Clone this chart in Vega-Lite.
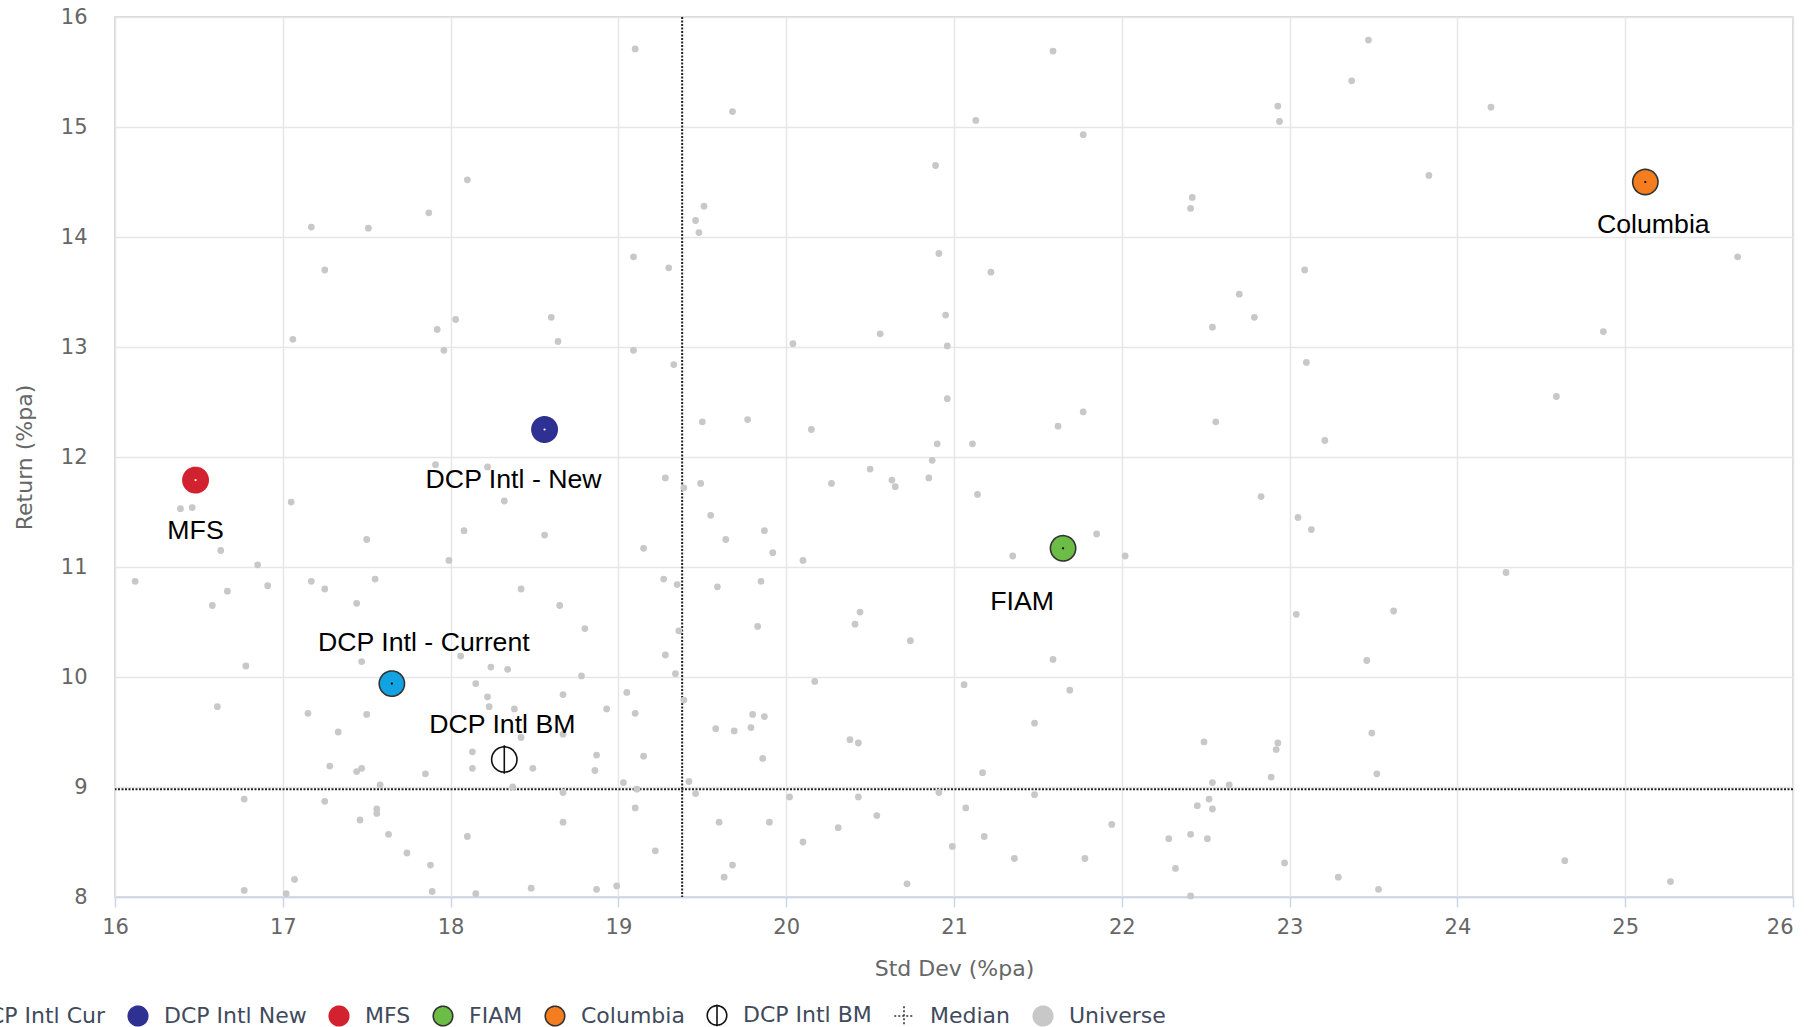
{
  "$schema": "https://vega.github.io/schema/vega-lite/v6.json",
  "width": 1678,
  "height": 880,
  "autosize": {"type": "none"},
  "padding": {"left": 115, "top": 17, "right": 17, "bottom": 130},
  "background": "white",
  "config": {
    "view": {"stroke": "#cccccc", "strokeWidth": 1.5},
    "axis": {"labelFont": "DejaVu Sans", "titleFont": "DejaVu Sans", "titleFontWeight": "normal", "labelColor": "#666666", "titleColor": "#666666", "gridColor": "#e6e6e6", "gridWidth": 1.5, "labelFontSize": 21, "titleFontSize": 22},
    "legend": {
      "orient": "none", "legendX": -180, "legendY": 987, "direction": "horizontal", "columns": 8,
      "title": null, "symbolSize": 380, "symbolStrokeWidth": 1.6, "labelFont": "DejaVu Sans", "labelFontSize": 22,
      "labelColor": "#3f4a5c", "labelOffset": 15, "columnPadding": 19, "labelLimit": 400, "padding": 0
    }
  },
  "datasets": {
    "points": [
      {"series":"Universe","std_dev":19.10,"return":15.71},{"series":"Universe","std_dev":21.59,"return":15.69},{"series":"Universe","std_dev":23.47,"return":15.79},{"series":"Universe","std_dev":23.37,"return":15.42},{"series":"Universe","std_dev":19.68,"return":15.14},{"series":"Universe","std_dev":22.93,"return":15.19},{"series":"Universe","std_dev":22.94,"return":15.05},{"series":"Universe","std_dev":24.20,"return":15.18},{"series":"Universe","std_dev":21.13,"return":15.06},{"series":"Universe","std_dev":21.77,"return":14.93},
      {"series":"Universe","std_dev":23.83,"return":14.56},{"series":"Universe","std_dev":20.89,"return":14.65},{"series":"Universe","std_dev":18.10,"return":14.52},{"series":"Universe","std_dev":17.87,"return":14.22},{"series":"Universe","std_dev":17.17,"return":14.09},{"series":"Universe","std_dev":17.51,"return":14.08},{"series":"Universe","std_dev":17.25,"return":13.70},{"series":"Universe","std_dev":19.51,"return":14.28},{"series":"Universe","std_dev":19.46,"return":14.15},{"series":"Universe","std_dev":19.48,"return":14.04},
      {"series":"Universe","std_dev":19.09,"return":13.82},{"series":"Universe","std_dev":19.30,"return":13.72},{"series":"Universe","std_dev":22.42,"return":14.36},{"series":"Universe","std_dev":22.41,"return":14.26},{"series":"Universe","std_dev":20.91,"return":13.85},{"series":"Universe","std_dev":21.22,"return":13.68},{"series":"Universe","std_dev":23.09,"return":13.70},{"series":"Universe","std_dev":25.67,"return":13.82},{"series":"Universe","std_dev":22.70,"return":13.48},{"series":"Universe","std_dev":22.79,"return":13.27},
      {"series":"Universe","std_dev":22.54,"return":13.18},{"series":"Universe","std_dev":20.95,"return":13.29},{"series":"Universe","std_dev":20.56,"return":13.12},{"series":"Universe","std_dev":20.04,"return":13.03},{"series":"Universe","std_dev":20.96,"return":13.01},{"series":"Universe","std_dev":23.10,"return":12.86},{"series":"Universe","std_dev":24.87,"return":13.14},{"series":"Universe","std_dev":24.59,"return":12.55},{"series":"Universe","std_dev":23.21,"return":12.15},{"series":"Universe","std_dev":20.96,"return":12.53},
      {"series":"Universe","std_dev":21.77,"return":12.41},{"series":"Universe","std_dev":21.62,"return":12.28},{"series":"Universe","std_dev":22.56,"return":12.32},{"series":"Universe","std_dev":19.50,"return":12.32},{"series":"Universe","std_dev":19.77,"return":12.34},{"series":"Universe","std_dev":20.15,"return":12.25},{"series":"Universe","std_dev":20.90,"return":12.12},{"series":"Universe","std_dev":21.11,"return":12.12},{"series":"Universe","std_dev":20.87,"return":11.97},{"series":"Universe","std_dev":20.50,"return":11.89},
      {"series":"Universe","std_dev":18.03,"return":13.25},{"series":"Universe","std_dev":17.92,"return":13.16},{"series":"Universe","std_dev":17.96,"return":12.97},{"series":"Universe","std_dev":18.60,"return":13.27},{"series":"Universe","std_dev":18.64,"return":13.05},{"series":"Universe","std_dev":17.06,"return":13.07},{"series":"Universe","std_dev":19.09,"return":12.97},{"series":"Universe","std_dev":19.33,"return":12.84},{"series":"Universe","std_dev":17.91,"return":11.93},{"series":"Universe","std_dev":18.22,"return":11.91},
      {"series":"Universe","std_dev":16.39,"return":11.53},{"series":"Universe","std_dev":16.46,"return":11.54},{"series":"Universe","std_dev":17.05,"return":11.59},{"series":"Universe","std_dev":16.63,"return":11.15},{"series":"Universe","std_dev":16.85,"return":11.02},{"series":"Universe","std_dev":16.12,"return":10.87},{"series":"Universe","std_dev":16.67,"return":10.78},{"series":"Universe","std_dev":16.91,"return":10.83},{"series":"Universe","std_dev":16.58,"return":10.65},{"series":"Universe","std_dev":17.17,"return":10.87},
      {"series":"Universe","std_dev":17.25,"return":10.80},{"series":"Universe","std_dev":17.55,"return":10.89},{"series":"Universe","std_dev":17.44,"return":10.67},{"series":"Universe","std_dev":17.50,"return":11.25},{"series":"Universe","std_dev":17.99,"return":11.06},{"series":"Universe","std_dev":18.08,"return":11.33},{"series":"Universe","std_dev":18.32,"return":11.60},{"series":"Universe","std_dev":18.56,"return":11.29},{"series":"Universe","std_dev":19.15,"return":11.17},{"series":"Universe","std_dev":19.28,"return":11.81},
      {"series":"Universe","std_dev":19.27,"return":10.89},{"series":"Universe","std_dev":19.35,"return":10.84},{"series":"Universe","std_dev":18.42,"return":10.80},{"series":"Universe","std_dev":18.65,"return":10.65},{"series":"Universe","std_dev":18.80,"return":10.44},{"series":"Universe","std_dev":19.36,"return":10.42},{"series":"Universe","std_dev":19.28,"return":10.20},{"series":"Universe","std_dev":19.34,"return":10.03},{"series":"Universe","std_dev":18.78,"return":10.01},{"series":"Universe","std_dev":16.78,"return":10.10},
      {"series":"Universe","std_dev":17.47,"return":10.14},{"series":"Universe","std_dev":18.06,"return":10.19},{"series":"Universe","std_dev":18.24,"return":10.09},{"series":"Universe","std_dev":18.34,"return":10.07},{"series":"Universe","std_dev":18.15,"return":9.94},{"series":"Universe","std_dev":18.22,"return":9.82},{"series":"Universe","std_dev":18.23,"return":9.73},{"series":"Universe","std_dev":18.38,"return":9.71},{"series":"Universe","std_dev":18.67,"return":9.84},{"series":"Universe","std_dev":19.05,"return":9.86},
      {"series":"Universe","std_dev":18.93,"return":9.71},{"series":"Universe","std_dev":19.10,"return":9.67},{"series":"Universe","std_dev":19.39,"return":9.79},{"series":"Universe","std_dev":16.61,"return":9.73},{"series":"Universe","std_dev":17.15,"return":9.67},{"series":"Universe","std_dev":17.50,"return":9.66},{"series":"Universe","std_dev":17.33,"return":9.50},{"series":"Universe","std_dev":18.42,"return":9.45},{"series":"Universe","std_dev":18.67,"return":9.48},{"series":"Universe","std_dev":18.13,"return":9.32},
      {"series":"Universe","std_dev":18.13,"return":9.17},{"series":"Universe","std_dev":18.49,"return":9.17},{"series":"Universe","std_dev":18.87,"return":9.29},{"series":"Universe","std_dev":18.86,"return":9.15},{"series":"Universe","std_dev":19.15,"return":9.28},{"series":"Universe","std_dev":17.28,"return":9.19},{"series":"Universe","std_dev":17.44,"return":9.14},{"series":"Universe","std_dev":17.47,"return":9.17},{"series":"Universe","std_dev":17.85,"return":9.12},{"series":"Universe","std_dev":17.58,"return":9.02},
      {"series":"Universe","std_dev":18.37,"return":9.00},{"series":"Universe","std_dev":19.03,"return":9.04},{"series":"Universe","std_dev":19.42,"return":9.05},{"series":"Universe","std_dev":19.11,"return":8.98},{"series":"Universe","std_dev":18.67,"return":8.95},{"series":"Universe","std_dev":16.77,"return":8.89},{"series":"Universe","std_dev":17.25,"return":8.87},{"series":"Universe","std_dev":17.56,"return":8.80},{"series":"Universe","std_dev":17.56,"return":8.76},{"series":"Universe","std_dev":17.46,"return":8.70},
      {"series":"Universe","std_dev":19.10,"return":8.81},{"series":"Universe","std_dev":18.67,"return":8.68},{"series":"Universe","std_dev":17.63,"return":8.57},{"series":"Universe","std_dev":18.10,"return":8.55},{"series":"Universe","std_dev":19.22,"return":8.42},{"series":"Universe","std_dev":17.74,"return":8.40},{"series":"Universe","std_dev":17.88,"return":8.29},{"series":"Universe","std_dev":17.07,"return":8.16},{"series":"Universe","std_dev":16.77,"return":8.06},{"series":"Universe","std_dev":17.02,"return":8.03},
      {"series":"Universe","std_dev":17.89,"return":8.05},{"series":"Universe","std_dev":18.15,"return":8.03},{"series":"Universe","std_dev":18.48,"return":8.08},{"series":"Universe","std_dev":18.87,"return":8.07},{"series":"Universe","std_dev":18.99,"return":8.10},{"series":"Universe","std_dev":20.63,"return":11.79},{"series":"Universe","std_dev":20.65,"return":11.73},{"series":"Universe","std_dev":20.85,"return":11.81},{"series":"Universe","std_dev":20.27,"return":11.76},{"series":"Universe","std_dev":19.49,"return":11.76},
      {"series":"Universe","std_dev":19.39,"return":11.72},{"series":"Universe","std_dev":21.14,"return":11.66},{"series":"Universe","std_dev":19.55,"return":11.47},{"series":"Universe","std_dev":19.64,"return":11.25},{"series":"Universe","std_dev":19.87,"return":11.33},{"series":"Universe","std_dev":19.92,"return":11.13},{"series":"Universe","std_dev":20.10,"return":11.06},{"series":"Universe","std_dev":21.35,"return":11.10},{"series":"Universe","std_dev":21.85,"return":11.30},{"series":"Universe","std_dev":22.02,"return":11.10},
      {"series":"Universe","std_dev":19.59,"return":10.82},{"series":"Universe","std_dev":19.85,"return":10.87},{"series":"Universe","std_dev":19.83,"return":10.46},{"series":"Universe","std_dev":20.44,"return":10.59},{"series":"Universe","std_dev":20.41,"return":10.48},{"series":"Universe","std_dev":20.74,"return":10.33},{"series":"Universe","std_dev":21.59,"return":10.16},{"series":"Universe","std_dev":20.17,"return":9.96},{"series":"Universe","std_dev":21.06,"return":9.93},{"series":"Universe","std_dev":21.69,"return":9.88},
      {"series":"Universe","std_dev":19.80,"return":9.66},{"series":"Universe","std_dev":19.87,"return":9.64},{"series":"Universe","std_dev":19.58,"return":9.53},{"series":"Universe","std_dev":19.69,"return":9.51},{"series":"Universe","std_dev":19.79,"return":9.54},{"series":"Universe","std_dev":21.48,"return":9.58},{"series":"Universe","std_dev":20.38,"return":9.43},{"series":"Universe","std_dev":20.43,"return":9.40},{"series":"Universe","std_dev":19.86,"return":9.26},{"series":"Universe","std_dev":22.49,"return":9.41},
      {"series":"Universe","std_dev":21.17,"return":9.13},{"series":"Universe","std_dev":22.54,"return":9.04},{"series":"Universe","std_dev":22.64,"return":9.02},{"series":"Universe","std_dev":19.46,"return":8.94},{"series":"Universe","std_dev":20.02,"return":8.91},{"series":"Universe","std_dev":20.43,"return":8.91},{"series":"Universe","std_dev":20.91,"return":8.95},{"series":"Universe","std_dev":21.48,"return":8.93},{"series":"Universe","std_dev":22.52,"return":8.89},{"series":"Universe","std_dev":22.45,"return":8.83},
      {"series":"Universe","std_dev":22.54,"return":8.80},{"series":"Universe","std_dev":21.07,"return":8.81},{"series":"Universe","std_dev":19.60,"return":8.68},{"series":"Universe","std_dev":19.90,"return":8.68},{"series":"Universe","std_dev":20.54,"return":8.74},{"series":"Universe","std_dev":20.31,"return":8.63},{"series":"Universe","std_dev":20.10,"return":8.50},{"series":"Universe","std_dev":21.18,"return":8.55},{"series":"Universe","std_dev":20.99,"return":8.46},{"series":"Universe","std_dev":21.94,"return":8.66},
      {"series":"Universe","std_dev":21.36,"return":8.35},{"series":"Universe","std_dev":21.78,"return":8.35},{"series":"Universe","std_dev":22.28,"return":8.53},{"series":"Universe","std_dev":22.41,"return":8.57},{"series":"Universe","std_dev":22.51,"return":8.53},{"series":"Universe","std_dev":22.32,"return":8.26},{"series":"Universe","std_dev":19.68,"return":8.29},{"series":"Universe","std_dev":19.63,"return":8.18},{"series":"Universe","std_dev":20.72,"return":8.12},{"series":"Universe","std_dev":22.41,"return":8.01},
      {"series":"Universe","std_dev":22.83,"return":11.64},{"series":"Universe","std_dev":23.05,"return":11.45},{"series":"Universe","std_dev":23.13,"return":11.34},{"series":"Universe","std_dev":24.29,"return":10.95},{"series":"Universe","std_dev":23.04,"return":10.57},{"series":"Universe","std_dev":23.62,"return":10.60},{"series":"Universe","std_dev":23.46,"return":10.15},{"series":"Universe","std_dev":23.49,"return":9.49},{"series":"Universe","std_dev":22.93,"return":9.40},{"series":"Universe","std_dev":22.92,"return":9.34},
      {"series":"Universe","std_dev":22.89,"return":9.09},{"series":"Universe","std_dev":23.52,"return":9.12},{"series":"Universe","std_dev":22.97,"return":8.31},{"series":"Universe","std_dev":23.29,"return":8.18},{"series":"Universe","std_dev":23.53,"return":8.07},{"series":"Universe","std_dev":24.64,"return":8.33},{"series":"Universe","std_dev":25.27,"return":8.14},
      {"series":"DCP Intl Cur","label":"DCP Intl - Current","std_dev":17.65,"return":9.94},
      {"series":"DCP Intl New","label":"DCP Intl - New","std_dev":18.56,"return":12.25},
      {"series":"MFS","label":"MFS","std_dev":16.48,"return":11.79},
      {"series":"FIAM","label":"FIAM","std_dev":21.65,"return":11.17},
      {"series":"Columbia","label":"Columbia","std_dev":25.12,"return":14.50},
      {"series":"DCP Intl BM","label":"DCP Intl BM","std_dev":18.32,"return":9.25}
    ],
    "median": [{"std_dev": 19.38, "return": 8.98}]
  },
  "layer": [
    {
      "data": {"name": "median"},
      "mark": {"type": "rule", "color": "#222222", "strokeWidth": 2, "strokeDash": [2, 1.5]},
      "encoding": {"x": {"field": "std_dev", "type": "quantitative", "scale": {"domain": [16, 26], "nice": false, "zero": false}}}
    },
    {
      "data": {"name": "median"},
      "mark": {"type": "rule", "color": "#222222", "strokeWidth": 2, "strokeDash": [2, 1.5]},
      "encoding": {"y": {"field": "return", "type": "quantitative", "scale": {"domain": [8, 16], "nice": false, "zero": false}}}
    },
    {
      "data": {"name": "points"},
      "transform": [{"filter": "datum.series === 'Universe'"}],
      "mark": {"type": "point", "filled": true, "size": 46, "opacity": 1, "strokeWidth": 0},
      "encoding": {
        "x": {"field": "std_dev", "type": "quantitative", "scale": {"domain": [16, 26], "nice": false, "zero": false},
          "axis": {"values": [16,17,18,19,20,21,22,23,24,25,26], "format": "d", "title": "Std Dev (%pa)", "domainColor": "#ccd6eb", "domainWidth": 1.5, "tickColor": "#ccd6eb", "tickWidth": 1.5, "tickSize": 10, "labelPadding": 9, "titlePadding": 21, "labelFlush": false,
            "labelAlign": {"condition": {"test": "datum.value === 26", "value": "right"}, "value": "center"}}},
        "y": {"field": "return", "type": "quantitative", "scale": {"domain": [8, 16], "nice": false, "zero": false},
          "axis": {"values": [8,9,10,11,12,13,14,15,16], "format": "d", "title": "Return (%pa)", "domain": false, "ticks": false, "labelPadding": 28, "titlePadding": 24, "labelFlush": false}},
        "fill": {"field": "series", "type": "nominal", "scale": {"domain": ["DCP Intl Cur","DCP Intl New","MFS","FIAM","Columbia","DCP Intl BM","Median","Universe"], "range": ["#12a3e3","#2e3192","#d3222f","#6cbd45","#f47d20","transparent","transparent","#c8c8c8"]}},
        "stroke": {"field": "series", "type": "nominal", "scale": {"domain": ["DCP Intl Cur","DCP Intl New","MFS","FIAM","Columbia","DCP Intl BM","Median","Universe"], "range": ["#333333","#2e3192","#d3222f","#333333","#333333","#111111","#333333","#c8c8c8"]}},
        "shape": {"field": "series", "type": "nominal", "scale": {"domain": ["DCP Intl Cur","DCP Intl New","MFS","FIAM","Columbia","DCP Intl BM","Median","Universe"], "range": ["circle","circle","circle","circle","circle","M0,-1A1,1,0,1,1,0,1A1,1,0,1,1,0,-1ZM0,-1.12L0,1.12","M-1,0L1,0M0,-1L0,1","circle"]}},
        "strokeDash": {"field": "series", "type": "nominal", "scale": {"domain": ["DCP Intl Cur","DCP Intl New","MFS","FIAM","Columbia","DCP Intl BM","Median","Universe"], "range": [[1,0],[1,0],[1,0],[1,0],[1,0],[1,0],[2,2],[1,0]]}}
      }
    },
    {
      "data": {"name": "points"},
      "transform": [{"filter": "datum.series !== 'Universe'"}],
      "mark": {"type": "point", "filled": true, "size": 640, "opacity": 1, "strokeWidth": 1.6},
      "encoding": {
        "x": {"field": "std_dev", "type": "quantitative", "scale": {"domain": [16, 26], "nice": false, "zero": false}},
        "y": {"field": "return", "type": "quantitative", "scale": {"domain": [8, 16], "nice": false, "zero": false}},
        "fill": {"field": "series", "type": "nominal"},
        "stroke": {"field": "series", "type": "nominal"},
        "shape": {"field": "series", "type": "nominal"},
        "strokeDash": {"field": "series", "type": "nominal"}
      }
    },
    {
      "data": {"name": "points"},
      "transform": [{"filter": "datum.series === 'DCP Intl New' || datum.series === 'MFS'"}],
      "mark": {"type": "point", "filled": true, "size": 5, "fill": "white", "opacity": 1},
      "encoding": {
        "x": {"field": "std_dev", "type": "quantitative", "scale": {"domain": [16, 26], "nice": false, "zero": false}},
        "y": {"field": "return", "type": "quantitative", "scale": {"domain": [8, 16], "nice": false, "zero": false}}
      }
    },
    {
      "data": {"name": "points"},
      "transform": [{"filter": "datum.series === 'DCP Intl Cur' || datum.series === 'FIAM' || datum.series === 'Columbia'"}],
      "mark": {"type": "point", "filled": true, "size": 5, "fill": "black", "opacity": 1},
      "encoding": {
        "x": {"field": "std_dev", "type": "quantitative", "scale": {"domain": [16, 26], "nice": false, "zero": false}},
        "y": {"field": "return", "type": "quantitative", "scale": {"domain": [8, 16], "nice": false, "zero": false}}
      }
    },
    {
      "data": {"name": "points"},
      "transform": [{"filter": "datum.series === 'MFS'"}],
      "mark": {"type": "text", "font": "Liberation Sans", "fontSize": 26.7, "color": "black", "baseline": "middle", "align": "center", "dx": 0, "dy": 51},
      "encoding": {"x": {"field": "std_dev", "type": "quantitative"}, "y": {"field": "return", "type": "quantitative"}, "text": {"field": "label"}}
    },
    {
      "data": {"name": "points"},
      "transform": [{"filter": "datum.series === 'DCP Intl New'"}],
      "mark": {"type": "text", "font": "Liberation Sans", "fontSize": 26.7, "color": "black", "baseline": "middle", "align": "center", "dx": -31, "dy": 50},
      "encoding": {"x": {"field": "std_dev", "type": "quantitative"}, "y": {"field": "return", "type": "quantitative"}, "text": {"field": "label"}}
    },
    {
      "data": {"name": "points"},
      "transform": [{"filter": "datum.series === 'DCP Intl Cur'"}],
      "mark": {"type": "text", "font": "Liberation Sans", "fontSize": 26.7, "color": "black", "baseline": "middle", "align": "center", "dx": 32, "dy": -41},
      "encoding": {"x": {"field": "std_dev", "type": "quantitative"}, "y": {"field": "return", "type": "quantitative"}, "text": {"field": "label"}}
    },
    {
      "data": {"name": "points"},
      "transform": [{"filter": "datum.series === 'DCP Intl BM'"}],
      "mark": {"type": "text", "font": "Liberation Sans", "fontSize": 26.7, "color": "black", "baseline": "middle", "align": "center", "dx": -2, "dy": -35},
      "encoding": {"x": {"field": "std_dev", "type": "quantitative"}, "y": {"field": "return", "type": "quantitative"}, "text": {"field": "label"}}
    },
    {
      "data": {"name": "points"},
      "transform": [{"filter": "datum.series === 'FIAM'"}],
      "mark": {"type": "text", "font": "Liberation Sans", "fontSize": 26.7, "color": "black", "baseline": "middle", "align": "center", "dx": -41, "dy": 54},
      "encoding": {"x": {"field": "std_dev", "type": "quantitative"}, "y": {"field": "return", "type": "quantitative"}, "text": {"field": "label"}}
    },
    {
      "data": {"name": "points"},
      "transform": [{"filter": "datum.series === 'Columbia'"}],
      "mark": {"type": "text", "font": "Liberation Sans", "fontSize": 26.7, "color": "black", "baseline": "middle", "align": "center", "dx": 8, "dy": 43},
      "encoding": {"x": {"field": "std_dev", "type": "quantitative"}, "y": {"field": "return", "type": "quantitative"}, "text": {"field": "label"}}
    }
  ]
}
